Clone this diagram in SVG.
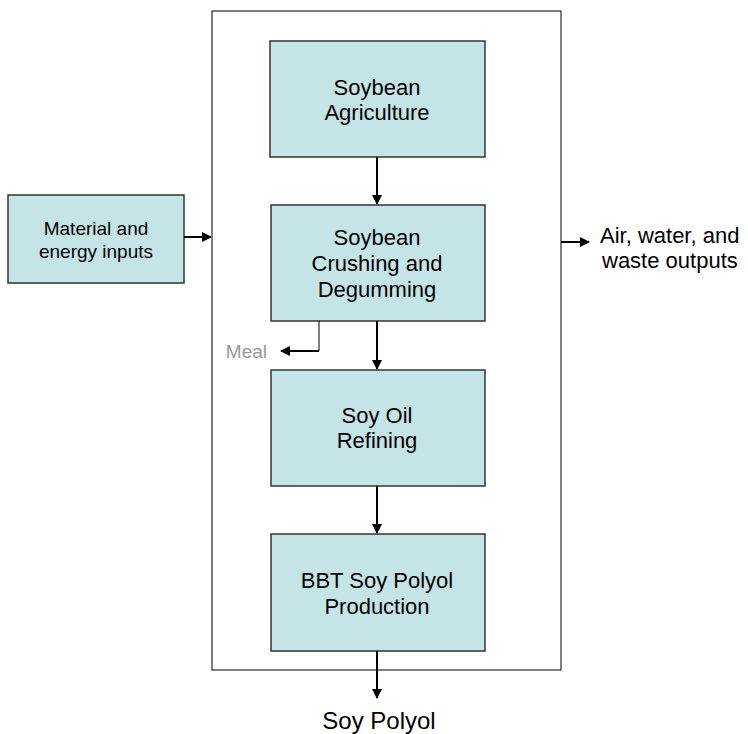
<svg xmlns="http://www.w3.org/2000/svg" width="748" height="734" viewBox="0 0 748 734">
<style>
.box{fill:#c5e4e6;stroke:#333;stroke-width:1.5}
.t{font-family:"Liberation Sans",Arial,sans-serif;font-size:22px;fill:#000;text-anchor:middle}
.c{stroke:#000;stroke-width:2;fill:none}
</style>
<defs>
<marker id="a" viewBox="0 0 10 10" refX="9" refY="5" markerWidth="5" markerHeight="5" orient="auto" markerUnits="strokeWidth">
<path d="M0,0 L10,5 L0,10 z" fill="#000"/>
</marker>
</defs>
<rect width="748" height="734" fill="#fff"/>
<g id="boundary"><rect x="212" y="11" width="349" height="659" fill="none" stroke="#000" stroke-width="1"/></g>
<g id="material"><rect class="box" x="8" y="195" width="176" height="88"/>
<text class="t" style="font-size:19px" x="96" y="235">Material and</text>
<text class="t" style="font-size:19px" x="96" y="258">energy inputs</text></g>
<g id="agri"><rect class="box" x="270" y="41" width="215" height="116"/>
<text class="t" x="377" y="95">Soybean</text>
<text class="t" x="377" y="120">Agriculture</text></g>
<g id="crush"><rect class="box" x="271" y="205" width="214" height="116"/>
<text class="t" x="377" y="245">Soybean</text>
<text class="t" x="377" y="271">Crushing and</text>
<text class="t" x="377" y="297">Degumming</text></g>
<g id="refine"><rect class="box" x="271" y="370" width="214" height="116"/>
<text class="t" x="377" y="423">Soy Oil</text>
<text class="t" x="377" y="448">Refining</text></g>
<g id="bbt"><rect class="box" x="271" y="534" width="214" height="117"/>
<text class="t" x="377" y="588">BBT Soy Polyol</text>
<text class="t" x="377" y="614">Production</text></g>
<g id="meal"><text x="267" y="358" style="font-family:'Liberation Sans',Arial,sans-serif;font-size:19px;fill:#999;text-anchor:end">Meal</text></g>
<g id="outputs"><text x="600" y="243" style="font-family:'Liberation Sans',Arial,sans-serif;font-size:22px">Air, water, and</text>
<text x="602" y="268" style="font-family:'Liberation Sans',Arial,sans-serif;font-size:22px">waste outputs</text></g>
<g id="product"><text class="t" style="font-size:24px" x="379" y="729">Soy Polyol</text></g>
<g id="connectors">
<line class="c" x1="184" y1="237" x2="211" y2="237" marker-end="url(#a)"/>
<line class="c" x1="377" y1="157" x2="377" y2="204" marker-end="url(#a)"/>
<line class="c" x1="377" y1="321" x2="377" y2="369" marker-end="url(#a)"/>
<line class="c" x1="377" y1="486" x2="377" y2="533" marker-end="url(#a)"/>
<line class="c" x1="377" y1="651" x2="377" y2="698" marker-end="url(#a)"/>
<line class="c" x1="561" y1="242" x2="589" y2="242" marker-end="url(#a)"/>
<path d="M319,321 V351 H283" stroke="#000" stroke-width="1" fill="none"/>
<line class="c" x1="319" y1="351" x2="281" y2="351" marker-end="url(#a)"/>
</g>
</svg>
